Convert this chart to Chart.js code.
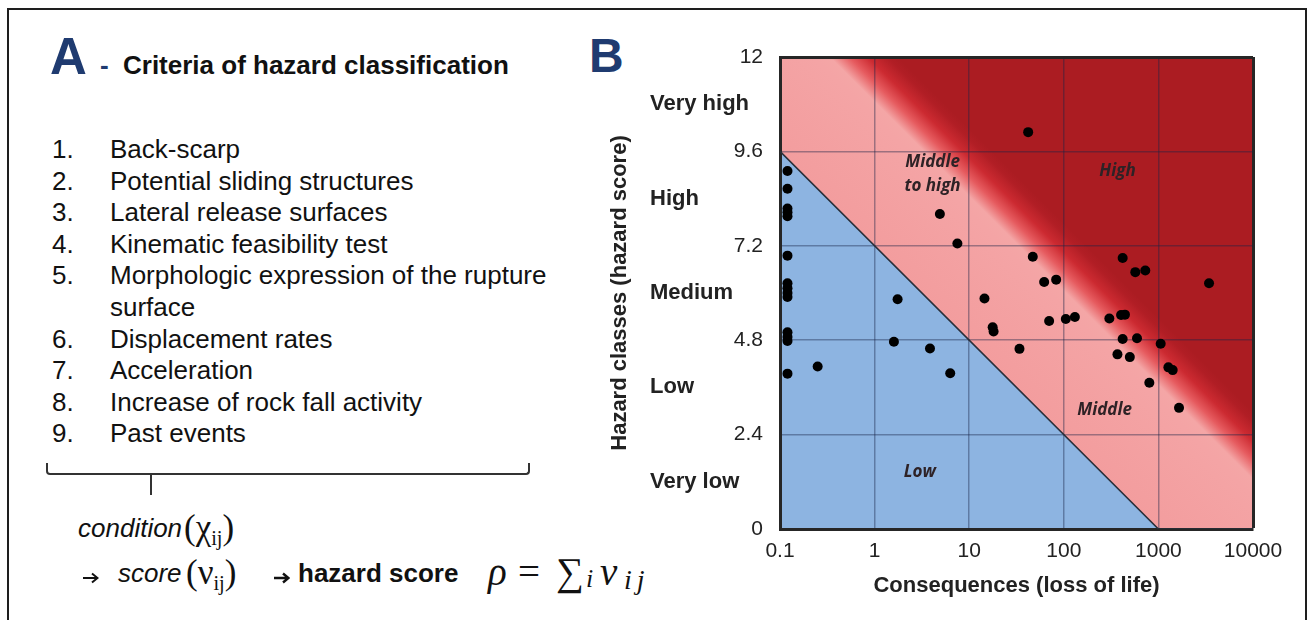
<!DOCTYPE html>
<html>
<head>
<meta charset="utf-8">
<script src="https://cdn.jsdelivr.net/npm/chart.js@4.4.1/dist/chart.umd.min.js"></script>
<style>
  body { margin: 0; width: 1312px; height: 620px; overflow: hidden; background: #fff; position: relative;
         font-family: "Liberation Sans", Arial, sans-serif; color: #111 }
  .abs { position: absolute; white-space: nowrap; line-height: 1 }
  .navy { color: #1f3b70 }
  .serif { font-family: "Liberation Serif", "Times New Roman", serif }
  .arrow { position: absolute; width: 17px; height: 12px }
  sub { font-size: 58%; vertical-align: -0.3em; line-height: 0 }
  #frame { position: absolute; left: 7px; top: 8px; width: 1300px; height: 660px; border: 2px solid #1e1e1e; box-sizing: border-box }
  #list { position: absolute; left: 52px; top: 134px; font-size: 26px; line-height: 31.6px }
  #list div { display: flex }
  #list .n { width: 58px; flex: none }
  .brace { position: absolute; left: 46px; top: 463px; width: 484px; height: 12px; border: 2px solid #333; border-top: none; border-radius: 0 0 4px 4px; box-sizing: border-box }
  .stem { position: absolute; left: 150px; top: 474px; width: 2px; height: 21px; background: #333 }
  #wrap { position: absolute; left: 580px; top: 20px; width: 720px; height: 590px }
</style>
</head>
<body>
<div id="frame"></div>

<div class="abs navy" style="left:50px;top:31px;font-size:51px;font-weight:bold">A</div>
<div class="abs navy" style="left:100px;top:52px;font-size:26px;font-weight:bold">-</div>
<div class="abs" style="left:123px;top:52px;font-size:26px;font-weight:bold">Criteria of hazard classification</div>

<div id="list">
  <div><span class="n">1.</span><span>Back-scarp</span></div>
  <div><span class="n">2.</span><span>Potential sliding structures</span></div>
  <div><span class="n">3.</span><span>Lateral release surfaces</span></div>
  <div><span class="n">4.</span><span>Kinematic feasibility test</span></div>
  <div><span class="n">5.</span><span>Morphologic expression of the rupture<br>surface</span></div>
  <div><span class="n">6.</span><span>Displacement rates</span></div>
  <div><span class="n">7.</span><span>Acceleration</span></div>
  <div><span class="n">8.</span><span>Increase of rock fall activity</span></div>
  <div><span class="n">9.</span><span>Past events</span></div>
</div>

<div class="brace"></div>
<div class="stem"></div>

<div class="abs" style="left:78px;top:515px;font-size:26px;font-style:italic">condition</div>
<div class="abs serif" style="left:184px;top:510px;font-size:35px">(χ<sub>ij</sub>)</div>

<svg class="arrow" style="left:82px;top:572px" viewBox="0 0 17 12"><path d="M1 6H15M10 1.5L15.5 6L10 10.5" fill="none" stroke="#111" stroke-width="2"/></svg>
<div class="abs" style="left:118px;top:560px;font-size:26px;font-style:italic">score</div>
<div class="abs serif" style="left:186px;top:555px;font-size:35px">(ν<sub>ij</sub>)</div>
<svg class="arrow" style="left:273px;top:572px" viewBox="0 0 17 12"><path d="M1 6H15M10 1.5L15.5 6L10 10.5" fill="none" stroke="#111" stroke-width="2.4"/></svg>
<div class="abs" style="left:298px;top:560px;font-size:26px;font-weight:bold">hazard score</div>

<div class="abs serif" style="left:488px;top:552px;font-size:39px;font-style:italic">ρ</div>
<div class="abs serif" style="left:518px;top:552px;font-size:39px">=</div>
<div class="abs serif" style="left:556px;top:552px;font-size:39px">∑</div>
<div class="abs serif" style="left:586px;top:566px;font-size:26px;font-style:italic">i</div>
<div class="abs serif" style="left:600px;top:552px;font-size:39px;font-style:italic">ν</div>
<div class="abs serif" style="left:624px;top:566px;font-size:28px;font-style:italic;letter-spacing:5px">ij</div>

<div class="abs navy" style="left:589px;top:32px;font-size:48px;font-weight:bold">B</div>

<div id="wrap"><canvas id="hazard"></canvas></div>

<script>
// consequences (loss of life) vs hazard score, one entry per slope
const consequences = [
  0.12, 0.12, 0.12, 0.12, 0.12, 0.12, 0.12, 0.12, 0.12, 0.12, 0.12, 0.12, 0.12, 0.12,
  0.25, 1.75, 1.6, 3.85, 6.3, 4.9, 7.5, 42, 14.5, 17.7, 18.1, 34, 47, 62, 83, 70, 105, 131,
  419, 570, 727, 3430, 303, 403, 443, 419, 594, 1057, 369, 499, 1275, 1416, 802, 1652,
]
const hazardScores = [
  9.1, 8.65, 8.15, 8.05, 7.95, 6.95, 6.25, 6.12, 6.0, 5.9, 5.0, 4.88, 4.78, 3.95,
  4.13, 5.84, 4.76, 4.59, 3.96, 8.01, 7.26, 10.09, 5.86, 5.13, 5.02, 4.58, 6.92, 6.28, 6.34, 5.29, 5.34, 5.39,
  6.89, 6.53, 6.57, 6.25, 5.35, 5.44, 5.45, 4.83, 4.85, 4.71, 4.44, 4.37, 4.11, 4.04, 3.72, 3.08,
]

// low / middle boundary
const boundaryX = [0.1, 1000, 10000]
const boundaryY = [9.6, 0, 0]

const xTicks = [0.1, 1, 10, 100, 1000, 10000]
const yTicks = [0, 2.4, 4.8, 7.2, 9.6, 12]
const classMid = [1.2, 3.6, 6, 8.4, 10.8]
const classNames = ['Very low', 'Low', 'Medium', 'High', 'Very high']

const zoneNames = [['Middle', 'to high'], ['High'], ['Middle'], ['Low']]
const zoneX = [4.1, 370, 270, 3]
const zoneY = [9.03, 9.1, 3.03, 1.45]

const BLUE = '#8db4e1'
const DARK = '#ab1c22'
const GRID = 'rgba(25,35,70,0.4)'
const EDGE = '#262626'
Chart.defaults.font.family = '"Liberation Sans", Arial, sans-serif'
Chart.defaults.color = '#222'

// pink -> dark red, running across the boundary line
function redFade(c) {
  const chart = c.chart
  if (!chart.chartArea) return DARK
  const { x, y } = chart.scales
  const ax = x.getPixelForValue(boundaryX[0]), ay = y.getPixelForValue(boundaryY[0])
  const bx = x.getPixelForValue(boundaryX[1]), by = y.getPixelForValue(boundaryY[1])
  const len = Math.hypot(bx - ax, by - ay)
  const nx = (by - ay) / len, ny = -(bx - ax) / len
  const g = chart.ctx.createLinearGradient(ax, ay, ax + nx * 150, ay + ny * 150)
  g.addColorStop(0, '#f39d9e')
  g.addColorStop(0.6, '#f4a4a5')
  g.addColorStop(0.68, '#f4a6a6')
  g.addColorStop(0.77, '#e65b5f')
  g.addColorStop(0.86, '#cc2a31')
  g.addColorStop(0.95, '#b11e25')
  g.addColorStop(1, DARK)
  return g
}

const zoneText = {
  id: 'zoneText',
  afterDatasetsDraw(chart) {
    const { ctx, scales: { x, y } } = chart
    ctx.save()
    ctx.font = 'italic bold 17px "Open Sans", sans-serif'
    ctx.fillStyle = '#2e2226'
    ctx.textAlign = 'center'
    ctx.textBaseline = 'middle'
    zoneNames.forEach((lines, i) => {
      const px = x.getPixelForValue(zoneX[i]), py = y.getPixelForValue(zoneY[i])
      lines.forEach((t, k) => ctx.fillText(t, px, py + k * 24 - (lines.length - 1) * 12))
    })
    ctx.restore()
  },
}

const pts = consequences.map((c, i) => ({ x: c, y: hazardScores[i] }))
const edge = boundaryX.map((v, i) => ({ x: v, y: boundaryY[i] }))
const setTicks = arr => s => { s.ticks = arr.map(v => ({ value: v })) }

new Chart(document.getElementById('hazard'), {
  type: 'scatter',
  data: {
    datasets: [
      { data: pts, backgroundColor: '#000', pointRadius: 5, pointBorderWidth: 0, order: 1 },
      { type: 'line', data: edge, fill: 'start', backgroundColor: BLUE, borderColor: '#2a2f3a', borderWidth: 1.6, pointRadius: 0, tension: 0, order: 2 },
      { type: 'line', data: edge, fill: 'end', backgroundColor: redFade, borderWidth: 0, pointRadius: 0, tension: 0, order: 3 },
    ],
  },
  options: {
    responsive: true, maintainAspectRatio: false, animation: false,
    layout: { padding: { left: 0, top: 37, right: 47, bottom: 0 } },
    plugins: { legend: { display: false }, tooltip: { enabled: false }, filler: { drawTime: 'beforeDraw' } },
    scales: {
      x: {
        type: 'logarithmic', min: 0.1, max: 10000,
        afterBuildTicks: setTicks(xTicks),
        afterFit: s => { s.height = 81 },
        ticks: { font: { size: 21 }, padding: 10, maxRotation: 0, autoSkip: false, callback: v => String(v) },
        grid: { drawTicks: false, color: c => c.tick && c.tick.value === 10000 ? EDGE : GRID, lineWidth: c => c.tick && c.tick.value === 10000 ? 3 : 1.5 },
        border: { color: EDGE, width: 3 },
        title: { display: true, text: 'Consequences (loss of life)', font: { size: 22, weight: 'bold' }, padding: { top: 0, bottom: 11 } },
      },
      y: {
        position: 'left', weight: 0, min: 0, max: 12,
        afterBuildTicks: setTicks(yTicks),
        afterFit: s => { s.width = 130 },
        ticks: { font: { size: 21 }, padding: 17, callback: v => String(v) },
        grid: { drawTicks: false, color: c => c.tick && c.tick.value === 12 ? EDGE : GRID, lineWidth: c => c.tick && c.tick.value === 12 ? 3 : 1.5 },
        border: { color: EDGE, width: 3 },
      },
      // class names sit left-aligned just right of this thin axis
      y2: {
        position: 'left', weight: 1, min: 0, max: 12,
        afterBuildTicks: setTicks(classMid),
        afterFit: s => { s.width = 1 },
        ticks: { font: { size: 22, weight: 'bold' }, mirror: true, padding: 0, callback: v => classNames[classMid.indexOf(v)] },
        grid: { display: false }, border: { display: false },
      },
      yT: {
        position: 'left', weight: 2, min: 0, max: 12,
        afterFit: s => { s.width = 69 },
        ticks: { display: false },
        grid: { display: false }, border: { display: false },
        title: { display: true, text: 'Hazard classes (hazard score)', font: { size: 22, weight: 'bold' }, padding: { top: 27, bottom: 0 } },
      },
    },
  },
  plugins: [zoneText],
})
</script>
</body>
</html>
